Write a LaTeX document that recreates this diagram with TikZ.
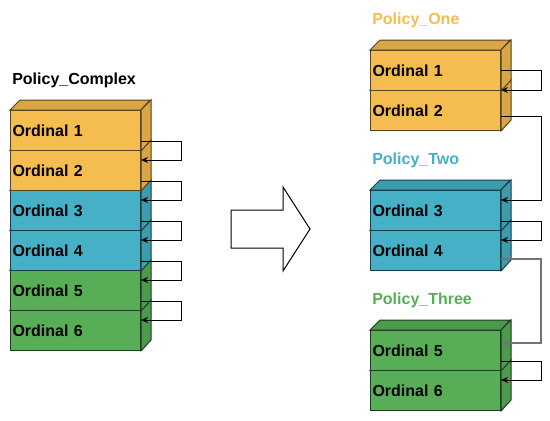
\documentclass[tikz,border=0pt]{standalone}
\usepackage{fontspec}
\setmainfont{Liberation Sans}
\usetikzlibrary{arrows.meta,calc}

\definecolor{ordOrange}{RGB}{245,189,79}
\definecolor{ordBlue}{RGB}{70,176,198}
\definecolor{ordGreen}{RGB}{88,174,87}

\tikzset{
  ordface/.style={rectangle, anchor=north west, text width=94.5pt, inner xsep=1.5pt,
    inner ysep=0pt, minimum height=30pt, align=left, line width=0.75pt,
    font=\fontsize{12pt}{14pt}\selectfont\bfseries},
  title/.style={anchor=west, inner sep=0pt, font=\fontsize{12pt}{14pt}\selectfont\bfseries},
  link/.style={line width=0.75pt, -{Stealth[length=5.25pt,width=4.5pt]}}
}

% one ordinal block: name, x, y (front top left), colour, text
\newcommand{\ordcube}[5]{%
  \node[ordface, fill=#4, draw=#4!35!black] (#1) at (#2,#3) {#5};
  \draw[line width=0.75pt, fill=#4!88!black, draw=#4!35!black] (#1.north west) -- ++(10,-10) -- ++(130,0) -- (#1.north east) -- cycle;
  \draw[line width=0.75pt, fill=#4!88!black, draw=#4!35!black] (#1.north east) -- ++(10,-10) -- ++(0,40) -- (#1.south east) -- cycle;
}

\begin{document}
\begin{tikzpicture}[x=0.75pt, y=-0.75pt]
	\useasboundingbox (0,0) rectangle (550,421);

	% left stack
	\node[title] (complex) at (12,80) {Policy\_Complex};
	\ordcube{c6}{10}{310}{ordGreen}{Ordinal 6}
	\ordcube{c5}{10}{270}{ordGreen}{Ordinal 5}
	\ordcube{c4}{10}{230}{ordBlue}{Ordinal 4}
	\ordcube{c3}{10}{190}{ordBlue}{Ordinal 3}
	\ordcube{c2}{10}{150}{ordOrange}{Ordinal 2}
	\ordcube{c1}{10}{110}{ordOrange}{Ordinal 1}
	\draw[link] ($(c1.south east)+(0,-10)$) -- ++(40,0) |- ($(c2.north east)+(0,10)$);
	\draw[link] ($(c2.south east)+(0,-10)$) -- ++(40,0) |- ($(c3.north east)+(0,10)$);
	\draw[link] ($(c3.south east)+(0,-10)$) -- ++(40,0) |- ($(c4.north east)+(0,10)$);
	\draw[link] ($(c4.south east)+(0,-10)$) -- ++(40,0) |- ($(c5.north east)+(0,10)$);
	\draw[link] ($(c5.south east)+(0,-10)$) -- ++(40,0) |- ($(c6.north east)+(0,10)$);

	% big arrow
	\draw[line width=0.75pt, fill=white] (231,210) -- (283,210) -- (283,187) -- (310,229)
		-- (283,271) -- (283,248) -- (231,248) -- cycle;

	% right stacks
	\node[title, text=ordOrange] (one) at (372,20) {Policy\_One};
	\ordcube{r2}{370}{90}{ordOrange}{Ordinal 2}
	\ordcube{r1}{370}{50}{ordOrange}{Ordinal 1}
	\node[title, text=ordBlue] (two) at (372,160) {Policy\_Two};
	\ordcube{r4}{370}{230}{ordBlue}{Ordinal 4}
	\ordcube{r3}{370}{190}{ordBlue}{Ordinal 3}
	\node[title, text=ordGreen] (three) at (372,300) {Policy\_Three};
	\ordcube{r6}{370}{370}{ordGreen}{Ordinal 6}
	\ordcube{r5}{370}{330}{ordGreen}{Ordinal 5}
	\draw[link] (r1.east) -- ++(40,0) |- (r2.north east);
	\draw[link] ($(r2.south east)+(0,-15)$) -- ++(40,0) |- ($(r3.north east)+(0,10)$);
	\draw[link] ($(r3.south east)+(0,-10)$) -- ++(40,0) |- ($(r4.north east)+(0,10)$);
	\draw[link, draw=black!55, line width=1.1pt] ($(r4.south east)+(0,-12)$) -- ++(40,0) |- ($(r5.north east)+(0,13)$);
	\draw[link] ($(r5.south east)+(0,-10)$) -- ++(40,0) |- ($(r6.north east)+(0,10)$);
\end{tikzpicture}
\end{document}
